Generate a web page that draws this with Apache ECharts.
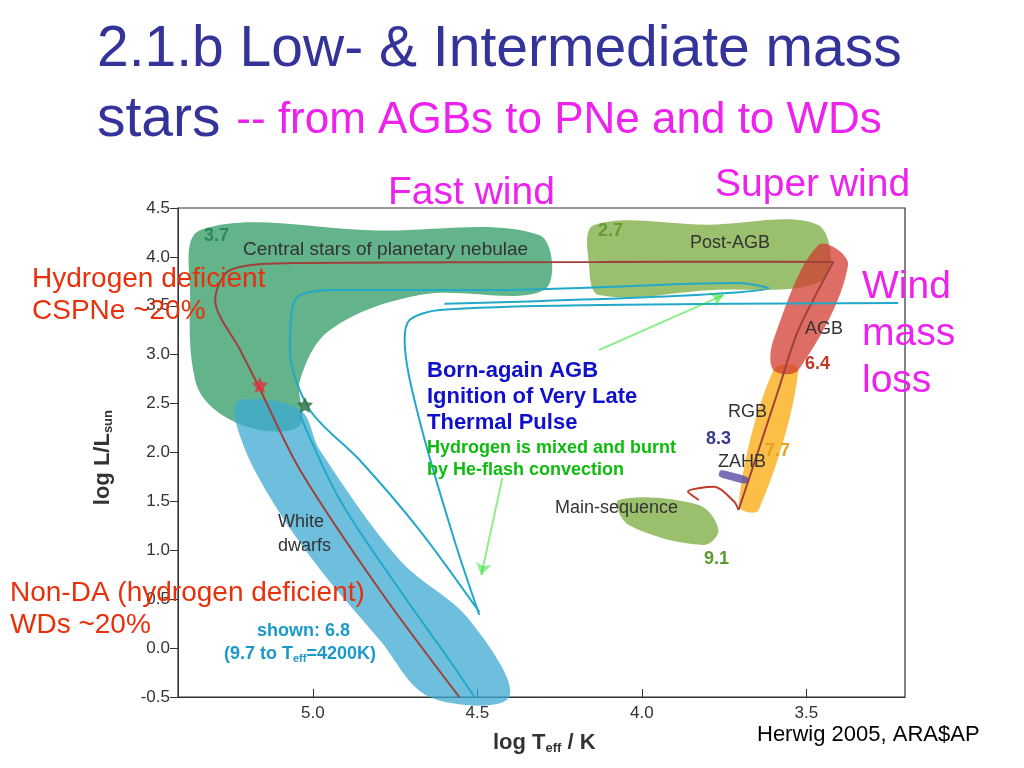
<!DOCTYPE html>
<html><head><meta charset="utf-8">
<script src="https://cdn.jsdelivr.net/npm/echarts@6/dist/echarts.min.js"></script>
<style>html,body{margin:0;background:#fff}#c{width:1024px;height:768px}</style></head>
<body><div id="c"></div>
<script>
// Regions [logT, logL]
const cspnRegion=[[5.342,4.275],[4.8,4.27],[4.312,4.224],[4.297,3.662],[4.676,3.61],[4.948,3.253],[5.039,2.741],[5.039,2.281],[5.161,2.23],[5.297,2.435],[5.358,2.741],[5.373,3.559]];
const postAgbRegion=[[4.145,4.326],[3.8,4.33],[3.464,4.326],[3.448,3.764],[3.8,3.66],[4.13,3.61],[4.16,3.9]];
const agbRegion=[[3.464,4.12],[3.373,3.917],[3.524,2.844],[3.6,2.844],[3.6,3.15]];
const rgbRegion=[[3.6,2.844],[3.524,2.844],[3.645,1.412],[3.706,1.463]];
const msRegion=[[4.07,1.514],[3.827,1.463],[3.767,1.207],[3.812,1.054],[4.04,1.259]];
const wdRegion=[[5.221,2.537],[5.039,2.435],[4.979,2.026],[4.736,0.9],[4.524,0.287],[4.403,-0.5],[4.645,-0.5],[4.797,0.083],[5.0,0.9],[5.161,1.719],[5.236,2.332]];
const redTrack=[[3.706,1.412],[3.645,2.025],[3.585,2.639],[3.524,3.253],[3.418,3.948],[3.7,3.95],[4.13,3.948],[5.039,3.938],[5.251,3.866],[5.297,3.559],[5.221,3.048],[5.167,2.69],[5.039,1.821],[4.797,0.594],[4.555,-0.5]];
const msTrack=[[3.827,1.514],[3.86,1.6],[3.78,1.65],[3.72,1.5],[3.706,1.412]];
const cyanA=[[4.494,0.338],[4.570,1.105],[4.676,2.332],[4.721,3.15],[4.706,3.355],[4.615,3.457],[4.13,3.508],[3.221,3.529]];
const cyanB=[[4.494,0.369],[4.676,1.207],[4.858,1.923],[5.009,2.435],[5.07,3.048],[5.055,3.559],[4.948,3.662],[4.433,3.662],[3.706,3.733],[3.615,3.68],[3.9,3.6],[4.6,3.52]];
const cyanCool=[[5.039,2.383],[4.918,1.514],[4.736,0.594],[4.585,-0.122],[4.509,-0.5]];
const redStar=[5.161,2.69], greenStar=[5.024,2.486], zahb=[3.721,1.75];
const arrows=[[[4.130,3.048],[3.752,3.61]],[[4.424,1.739],[4.488,0.747]]];
const xTicks=[5.0,4.5,4.0,3.5];

const regions=[[cspnRegion,'rgba(60,160,110,0.8)'],[wdRegion,'rgba(60,170,210,0.75)'],[postAgbRegion,'rgba(120,170,60,0.75)'],[msRegion,'rgba(120,170,60,0.75)'],[rgbRegion,'rgba(250,180,40,0.85)'],[agbRegion,'rgba(210,60,50,0.75)']];
const chart=echarts.init(document.getElementById('c'));
const F='Liberation Sans';
const line=(d,c,w)=>({type:'line',data:d,symbol:'none',smooth:0.3,lineStyle:{color:c,width:w},z:5});
const t=(x,y,s,o)=>({type:'text',left:x,top:y,z:20,style:Object.assign({text:s,fontFamily:F,fontSize:18,fill:'#333'},o||{})});
const sub=(a,s,b,size,col)=>({text:'{a|'+a+'}{s|'+s+'}{a|'+b+'}',rich:{a:{fontSize:size,fontWeight:'bold',fill:col,fontFamily:F},s:{fontSize:Math.round(size*0.6),fontWeight:'bold',fill:col,padding:[Math.round(size*0.5),0,0,0],fontFamily:F}}});
chart.setOption({
 animation:false,
 grid:{left:178,right:119,top:208,bottom:71,show:true,borderColor:'#333',borderWidth:1.2},
 xAxis:{type:'value',inverse:true,min:3.2,max:5.41,axisLine:{onZero:false,lineStyle:{color:'#333'}},splitLine:{show:false},
  axisTick:{customValues:xTicks,inside:true,length:8},axisLabel:{customValues:xTicks,formatter:v=>v.toFixed(1),fontSize:17,color:'#333',fontFamily:F}},
 yAxis:{type:'value',min:-0.5,max:4.5,interval:0.5,axisLine:{onZero:false,lineStyle:{color:'#333'}},splitLine:{show:false},
  axisTick:{length:8},axisLabel:{formatter:v=>v.toFixed(1),fontSize:17,color:'#333',fontFamily:F}},
 series:[
  {type:'custom',data:regions.map((r,i)=>i),z:1,renderItem:(p,api)=>{const r=regions[api.value(0)];return{type:'polygon',shape:{points:r[0].map(q=>api.coord(q)),smooth:0.35},style:{fill:r[1]}};}},
  line(redTrack,'#a0403c',2),line(msTrack,'#c0392b',2),
  line(cyanA,'#22a8c8',2),line(cyanB,'#22a8c8',2),line(cyanCool,'#22a8c8',2),
  {type:'scatter',data:[redStar],symbol:'path://M0,-10L2.9,-4L9.5,-3.1L4.7,1.5L5.9,8.1L0,5L-5.9,8.1L-4.7,1.5L-9.5,-3.1L-2.9,-4Z',symbolSize:16,itemStyle:{color:'#e53040'},z:8},
  {type:'scatter',data:[greenStar],symbol:'path://M0,-10L2.9,-4L9.5,-3.1L4.7,1.5L5.9,8.1L0,5L-5.9,8.1L-4.7,1.5L-9.5,-3.1L-2.9,-4Z',symbolSize:16,itemStyle:{color:'#2a6a3a'},z:8},
  {type:'scatter',data:[zahb],symbol:'roundRect',symbolSize:[30,8],symbolRotate:-15,itemStyle:{color:'#5a4aa8'},z:8},
  {type:'lines',coordinateSystem:'cartesian2d',data:arrows.map(a=>({coords:a})),symbol:['none','arrow'],symbolSize:12,lineStyle:{color:'#22dd22',width:2},z:10}
 ],
 graphic:[
  t(97,22,'2.1.b Low- & Intermediate mass',{fontSize:57,fill:'#33339a'}),
  t(97,92,'{a|stars }{b|-- from AGBs to PNe and to WDs}',{rich:{a:{fontSize:57,fill:'#33339a',fontFamily:F},b:{fontSize:44,fill:'#ee22ee',fontFamily:F}}}),
  t(388,174,'Fast wind',{fontSize:39,fill:'#ee22ee'}),
  t(715,166,'Super wind',{fontSize:39,fill:'#ee22ee'}),
  t(862,264,'Wind\nmass\nloss',{fontSize:39,fill:'#ee22ee',lineHeight:47}),
  t(32,263,'Hydrogen deficient\nCSPNe ~20%',{fontSize:28,fill:'#e8300a',lineHeight:32}),
  t(10,577,'Non-DA (hydrogen deficient)\nWDs ~20%',{fontSize:28,fill:'#e8300a',lineHeight:32}),
  t(427,358,'Born-again AGB\nIgnition of Very Late\nThermal Pulse',{fontSize:22,fontWeight:'bold',fill:'#1010cc',lineHeight:26}),
  t(427,437,'Hydrogen is mixed and burnt\nby He-flash convection',{fontSize:18,fontWeight:'bold',fill:'#10bb10',lineHeight:22}),
  t(757,724,'Herwig 2005, ARA$AP',{fontSize:22,fill:'#000'}),
  t(204,227,'3.7',{fontWeight:'bold',fill:'#2a8a5a'}),
  t(243,240,'Central stars of planetary nebulae',{fontSize:19}),
  t(598,222,'2.7',{fontWeight:'bold',fill:'#6a9a30'}),
  t(690,234,'Post-AGB'),
  t(805,320,'AGB'),t(805,355,'6.4',{fontWeight:'bold',fill:'#c0392b'}),
  t(728,403,'RGB'),t(765,442,'7.7',{fontWeight:'bold',fill:'#e8a020'}),
  t(706,430,'8.3',{fontWeight:'bold',fill:'#3a3a8a'}),t(718,453,'ZAHB'),
  t(555,499,'Main-sequence'),t(704,550,'9.1',{fontWeight:'bold',fill:'#5a9a30'}),
  t(278,510,'White\ndwarfs',{lineHeight:24}),
  t(257,622,'shown: 6.8',{fontWeight:'bold',fill:'#1a9ac8'}),
  {type:'text',left:224,top:645,z:20,style:sub('(9.7 to T','eff','=4200K)',18,'#1a9ac8')},
  {type:'text',left:92,top:410,rotation:Math.PI/2,z:20,style:sub('log L/L','sun','',22,'#333')},
  {type:'text',left:493,top:732,z:20,style:sub('log T','eff',' / K',22,'#333')}
 ]
});
</script></body></html>
